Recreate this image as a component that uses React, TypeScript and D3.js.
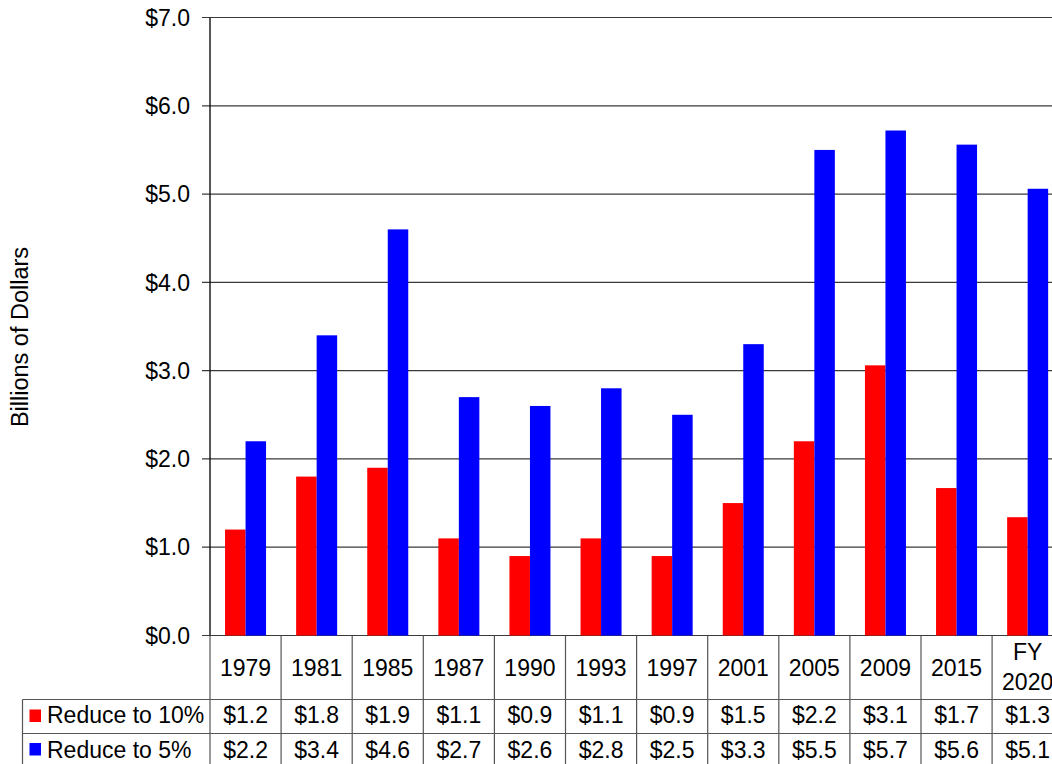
import React from "react";
import * as d3 from "d3";

// Fiscal years shown along the category axis (multi-line labels split on "\n")
const categories: string[] = ["1979", "1981", "1985", "1987", "1990", "1993", "1997", "2001", "2005", "2009", "2015", "FY\n2020"];

// Series names and values, in billions of dollars
const seriesNames: string[] = ["Reduce to 10%", "Reduce to 5%"];
const reduceTo10: number[] = [1.2, 1.8, 1.9, 1.1, 0.9, 1.1, 0.9, 1.5, 2.2, 3.06, 1.67, 1.34];
const reduceTo5: number[] = [2.2, 3.4, 4.6, 2.7, 2.6, 2.8, 2.5, 3.3, 5.5, 5.72, 5.56, 5.06];
const seriesColors: string[] = ["#ff0000", "#0000ff"];

// Value axis ticks
const yTicks: number[] = [0, 1, 2, 3, 4, 5, 6, 7];

const W = 1052;
const H = 764;
const FONT = "'Liberation Sans', Arial, Helvetica, sans-serif";

export default function App() {
  const left = 210;
  const step = 71.1;
  const top = 17.5;
  const bottom = 635.5;

  const x = d3.scaleBand<string>().domain(categories).range([left, left + step * categories.length]).padding(0);
  const inner = d3.scaleBand<string>().domain(seriesNames).range([0, x.bandwidth()]).paddingInner(0).paddingOuter(0.734);
  const y = d3.scaleLinear().domain([0, 7]).range([bottom, top]);
  const fmt = d3.format("$.1f");

  const series = [reduceTo10, reduceTo5];
  const right = left + step * categories.length;

  const lineColor = "#3a3a3a";
  const tableColor = "#555";

  const row1Top = bottom;
  const row2Top = 699.5;
  const row3Top = 733.5;
  const row3Bottom = 768;
  const legendLeft = 22.5;

  return (
    <svg width={W} height={H} style={{ position: "absolute", left: 0, top: 0, background: "#fff" }} fontFamily={FONT}>
      <rect x={0} y={0} width={W} height={H} fill="#fff" />

      {/* horizontal gridlines and tick labels */}
      {yTicks.map((t) => (
        <g key={t}>
          <line x1={left - 8} x2={right} y1={y(t)} y2={y(t)} stroke={lineColor} strokeWidth={1.2} />
          <text x={190} y={y(t) + 8.2} textAnchor="end" fontSize={23} fill="#000">
            {fmt(t)}
          </text>
        </g>
      ))}

      {/* value axis */}
      <line x1={left} x2={left} y1={top} y2={bottom} stroke="#111" strokeWidth={1.4} />

      {/* bars */}
      {series.map((vals, si) =>
        vals.map((v, i) => (
          <rect
            key={`${si}-${i}`}
            x={(x(categories[i]) ?? 0) + (inner(seriesNames[si]) ?? 0)}
            y={y(v)}
            width={inner.bandwidth()}
            height={y(0) - y(v)}
            fill={seriesColors[si]}
          />
        ))
      )}

      {/* axis title */}
      <text
        transform={`translate(27.5,337) rotate(-90)`}
        textAnchor="middle"
        fontSize={23.5}
        fill="#000"
      >
        Billions of Dollars
      </text>

      {/* data table */}
      <g stroke={tableColor} strokeWidth={1.2}>
        {categories.map((c) => (
          <line key={c} x1={(x(c) ?? 0)} x2={(x(c) ?? 0)} y1={row1Top} y2={row3Bottom} />
        ))}
        <line x1={right} x2={right} y1={row1Top} y2={row3Bottom} />
        <line x1={legendLeft} x2={right} y1={row2Top} y2={row2Top} />
        <line x1={legendLeft} x2={right} y1={row3Top} y2={row3Top} />
        <line x1={legendLeft} x2={legendLeft} y1={row2Top} y2={row3Bottom} />
      </g>

      {categories.map((c) => {
        const cx = (x(c) ?? 0) + x.bandwidth() / 2;
        const lines = c.split("\n");
        if (lines.length === 1) {
          return (
            <text key={c} x={cx} y={676} textAnchor="middle" fontSize={23} fill="#000">
              {c}
            </text>
          );
        }
        return (
          <text key={c} x={cx} textAnchor="middle" fontSize={23} fill="#000">
            {lines.map((l, j) => (
              <tspan key={j} x={cx} y={660 + j * 30}>
                {l}
              </tspan>
            ))}
          </text>
        );
      })}

      {series.map((vals, si) => {
        const baseY = si === 0 ? 723 : 758;
        const boxY = si === 0 ? 709.5 : 743;
        return (
          <g key={si}>
            <rect x={29.5} y={boxY} width={11.5} height={12.5} fill={seriesColors[si]} />
            <text x={47} y={baseY} fontSize={23} fill="#000">
              {seriesNames[si]}
            </text>
            {vals.map((v, i) => (
              <text
                key={i}
                x={(x(categories[i]) ?? 0) + x.bandwidth() / 2}
                y={baseY}
                textAnchor="middle"
                fontSize={23}
                fill="#000"
              >
                {fmt(v)}
              </text>
            ))}
          </g>
        );
      })}
    </svg>
  );
}
